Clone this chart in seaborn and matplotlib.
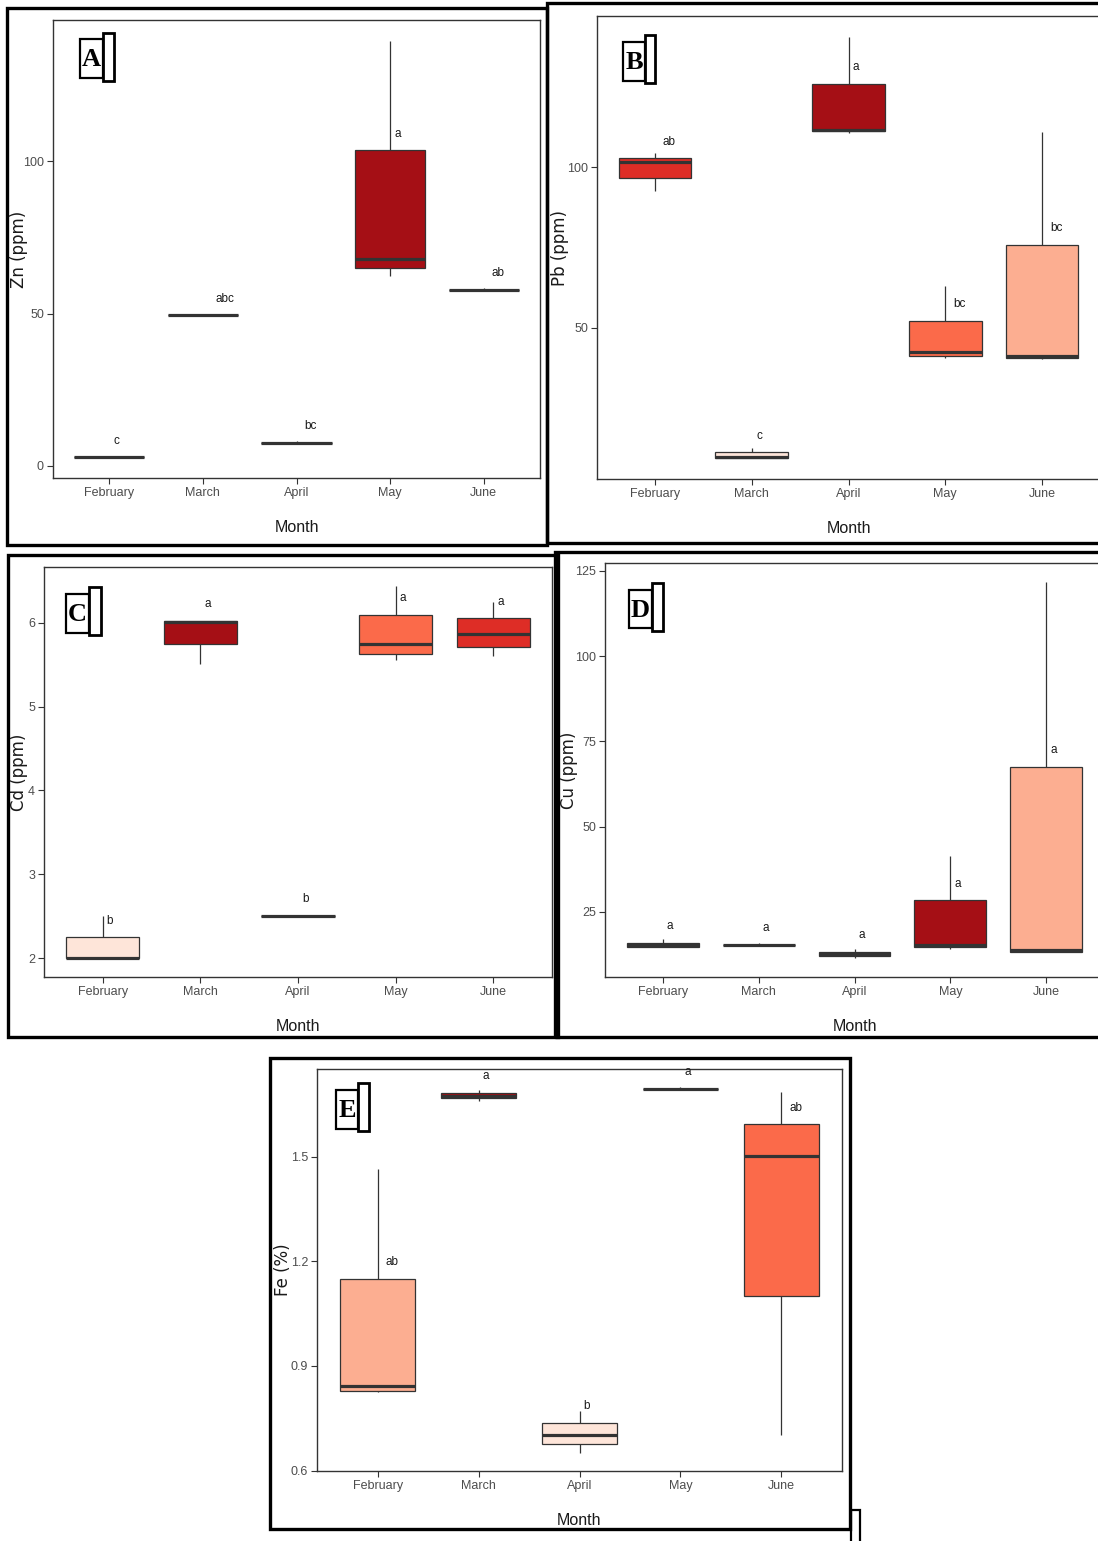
import numpy as np
import pandas as pd
import matplotlib
matplotlib.use("Agg")
import matplotlib.pyplot as plt
import seaborn as sns
from matplotlib.patches import Rectangle

# ---------------- data (five-number summaries) ----------------
# each entry: [lower whisker, Q1, median, Q3, upper whisker]
months = ["February", "March", "April", "May", "June"]

zn_stats = [[2.8, 2.8, 2.8, 2.8, 2.8],
            [49.4, 49.4, 49.4, 49.4, 49.4],
            [7.6, 7.6, 7.6, 7.6, 8.0],
            [62.4, 65.0, 67.9, 103.6, 139.6],
            [57.8, 57.8, 57.8, 57.8, 58.3]]
pb_stats = [[92.7, 96.6, 101.5, 102.7, 104.5],
            [9.6, 9.6, 9.9, 11.3, 12.7],
            [110.5, 111.1, 111.5, 125.8, 140.4],
            [40.7, 41.3, 42.5, 52.3, 62.9],
            [40.3, 40.7, 41.4, 75.9, 111.0]]
cd_stats = [[2.0, 2.0, 2.01, 2.25, 2.51],
            [5.51, 5.74, 6.01, 6.02, 6.02],
            [2.51, 2.51, 2.51, 2.51, 2.51],
            [5.55, 5.63, 5.75, 6.09, 6.44],
            [5.60, 5.71, 5.86, 6.05, 6.24]]
cu_stats = [[14.7, 14.7, 15.2, 16.0, 16.9],
            [15.2, 15.4, 15.4, 15.4, 15.8],
            [11.4, 11.9, 12.6, 13.3, 14.0],
            [14.2, 14.8, 15.2, 28.4, 41.5],
            [13.2, 13.2, 13.7, 67.5, 121.8]]
fe_stats = [[0.825, 0.828, 0.841, 1.150, 1.465],
            [1.661, 1.667, 1.675, 1.683, 1.690],
            [0.651, 0.675, 0.703, 0.736, 0.770],
            [1.694, 1.694, 1.694, 1.694, 1.699],
            [0.703, 1.101, 1.501, 1.593, 1.685]]

zn_letters = ["c", "abc", "bc", "a", "ab"]
pb_letters = ["ab", "c", "a", "bc", "bc"]
cd_letters = ["b", "a", "b", "a", "a"]
cu_letters = ["a", "a", "a", "a", "a"]
fe_letters = ["ab", "a", "b", "a", "ab"]

zn_colors = ["#FEE5D9", "#FB6A4A", "#FCAE91", "#A50F15", "#DE2D26"]
pb_colors = ["#DE2D26", "#FEE5D9", "#A50F15", "#FB6A4A", "#FCAE91"]
cd_colors = ["#FEE5D9", "#A50F15", "#FCAE91", "#FB6A4A", "#DE2D26"]
cu_colors = ["#FB6A4A", "#DE2D26", "#FEE5D9", "#A50F15", "#FCAE91"]
fe_colors = ["#FCAE91", "#A50F15", "#FEE5D9", "#DE2D26", "#FB6A4A"]

zn_ticks = [0, 50, 100]
pb_ticks = [50, 100]
cd_ticks = [2, 3, 4, 5, 6]
cu_ticks = [25, 50, 75, 100, 125]
fe_ticks = [0.6, 0.9, 1.2, 1.5]
fe_ticklabels = ["0.6", "0.9", "1.2", "1.5"]

# ---------------- figure ----------------
sns.set_style("white")
plt.rcParams["font.family"] = ["Liberation Sans", "DejaVu Sans"]

W, H = 1098, 1541
fig = plt.figure(figsize=(W / 100, H / 100), dpi=100)
fig.patch.set_facecolor("white")


def fig_rect(x0, y0, x1, y1, lw=2.2, ec="black", z=5):
    r = Rectangle((x0 / W, 1 - y1 / H), (x1 - x0) / W, (y1 - y0) / H,
                  transform=fig.transFigure, fill=False, ec=ec, lw=lw, zorder=z)
    fig.add_artist(r)


def panel(axbox, frame, stats, colors, letters, ylabel, yticks, ylabel_dx,
          tag, tagmain, tagside, yticklabels=None):
    x0, y0, x1, y1 = axbox
    ax = fig.add_axes([x0 / W, 1 - y1 / H, (x1 - x0) / W, (y1 - y0) / H])
    df = pd.DataFrame({"Month": np.repeat(months, 5),
                       "value": np.concatenate(stats)})
    sns.boxplot(data=df, x="Month", y="value", hue="Month", order=months,
                hue_order=months, palette=dict(zip(months, colors)),
                saturation=1, width=0.75, whis=(0, 100), dodge=False,
                linecolor="#333333", linewidth=0.9, showcaps=False,
                medianprops={"linewidth": 2.3, "color": "#333333"},
                legend=False, ax=ax)
    vals = np.concatenate(stats)
    lo, hi = vals.min(), vals.max()
    r = hi - lo
    ax.set_xlim(-0.6, 4.6)
    ax.set_ylim(lo - 0.05 * r, hi + 0.05 * r)
    ax.set_yticks(yticks)
    if yticklabels is not None:
        ax.set_yticklabels(yticklabels)
    for s in ax.spines.values():
        s.set_visible(True)
        s.set_color("#333333")
        s.set_linewidth(1.0)
    ax.tick_params(axis="both", which="both", direction="out", length=4,
                   width=0.8, color="#333333", labelcolor="#4D4D4D",
                   labelsize=9, pad=2.5, bottom=True, left=True)
    ax.set_xlabel("Month", fontsize=11.5, color="#1A1A1A")
    ax.xaxis.set_label_coords(0.5, -42 / (y1 - y0))
    ax.set_ylabel(ylabel, fontsize=12, color="#1A1A1A", family="DejaVu Sans")
    ax.yaxis.set_label_coords(-ylabel_dx / (x1 - x0), 0.5)
    for i, (s, lab) in enumerate(zip(stats, letters)):
        ax.annotate(lab, xy=(i, s[3]), xytext=(5.2 * len(lab), 12),
                    textcoords="offset points", ha="center", va="center",
                    fontsize=8.5, color="#1A1A1A", annotation_clip=False)
    # outer frame of the panel
    fig_rect(*frame, lw=2.4)
    # panel tag boxes
    fig_rect(*tagmain, lw=1.6)
    fig_rect(*tagside, lw=2.0)
    fig.text(((tagmain[0] + tagmain[2]) / 2) / W, 1 - ((tagmain[1] + tagmain[3]) / 2 + 1) / H,
             tag, ha="center", va="center", fontsize=19, fontweight="bold",
             family="Liberation Serif", color="black")
    return ax


panel((53, 20, 540, 478), (7, 8, 547, 545), zn_stats, zn_colors, zn_letters,
      "Zn (ppm)", zn_ticks, 25, "A", (80, 39, 103, 78), (103, 33, 114, 81))
panel((597, 16, 1100, 479), (547, 3, 1102, 543), pb_stats, pb_colors, pb_letters,
      "Pb (ppm)", pb_ticks, 28, "B", (623, 42, 645, 81), (645, 35, 655, 83))
panel((44, 567, 552, 977), (8, 555, 558, 1037), cd_stats, cd_colors, cd_letters,
      "Cd (ppm)", cd_ticks, 16, "C", (66, 594, 89, 633), (89, 587, 101, 635))
panel((605, 563, 1104, 977), (555, 552, 1102, 1037), cu_stats, cu_colors, cu_letters,
      "Cu (ppm)", cu_ticks, 27, "D", (629, 590, 652, 628), (652, 583, 663, 631))
panel((317, 1069, 842, 1471), (270, 1058, 850, 1529), fe_stats, fe_colors, fe_letters,
      "Fe (%)", fe_ticks, 25, "E", (336, 1090, 358, 1129), (358, 1083, 369, 1131),
      yticklabels=fe_ticklabels)

# small stray bracket at the lower right of panel E
fig_rect(851, 1510, 860, 1545, lw=1.6)

fig.savefig("out.png", dpi=100, facecolor="white")
